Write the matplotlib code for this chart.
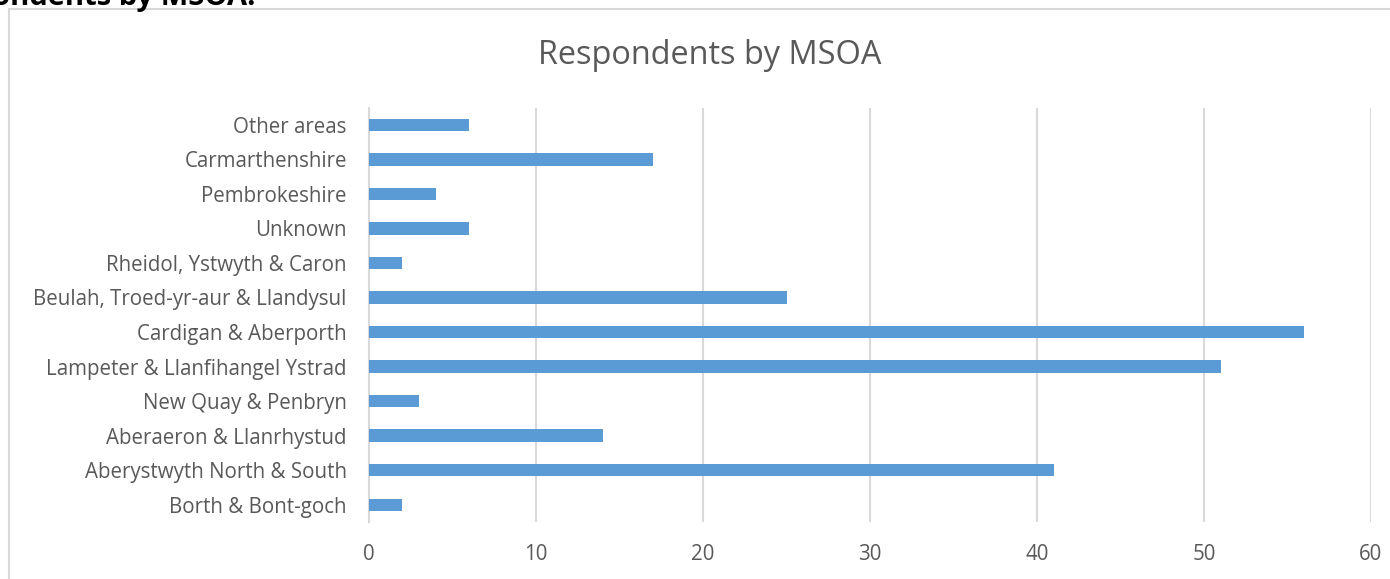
import matplotlib
matplotlib.use('Agg')
import matplotlib.pyplot as plt
from matplotlib.patches import Rectangle

# Data (bottom to top, as drawn)
areas = [
    "Borth & Bont-goch",
    "Aberystwyth North & South",
    "Aberaeron & Llanrhystud",
    "New Quay & Penbryn",
    "Lampeter & Llanfihangel Ystrad",
    "Cardigan & Aberporth",
    "Beulah, Troed-yr-aur & Llandysul",
    "Rheidol, Ystwyth & Caron",
    "Unknown",
    "Pembrokeshire",
    "Carmarthenshire",
    "Other areas",
]
respondents = [2, 41, 14, 3, 51, 56, 25, 2, 6, 4, 17, 6]
x_ticks = [0, 10, 20, 30, 40, 50, 60]

plt.rcParams['font.family'] = ['Open Sans', 'DejaVu Sans']
text_grey = '#595959'
bar_blue = '#5B9BD5'
grid_grey = '#D9D9D9'

fig = plt.figure(figsize=(13.9, 5.79), dpi=100, facecolor='white')

# chart frame (cut off at right and bottom)
fig.patches.append(Rectangle((8.5 / 1390, -0.1), 1.2, 1.1 - 9.5 / 579,
                             transform=fig.transFigure, fill=False,
                             edgecolor=grid_grey, linewidth=1.5))

# cropped heading above the chart (only its lower part shows)
fig.text(255 / 1390, 1 - 5 / 579, "Respondents by MSOA:", ha='right', va='baseline',
         fontsize=21, fontweight='bold', color='black')

ax = fig.add_axes([369 / 1390, 1 - 522 / 579, (1371 - 369) / 1390, (522 - 107.5) / 579])
ypos = range(len(areas))
ax.barh(ypos, respondents, height=0.36, color=bar_blue, zorder=3)
ax.set_yticks(list(ypos))
ax.set_yticklabels(areas)
ax.set_ylim(-0.5, len(areas) - 0.5)
ax.set_xlim(0, 60)
ax.set_xticks(x_ticks)
ax.grid(axis='x', color=grid_grey, linewidth=1.5, zorder=0)
for s in ['top', 'right', 'bottom']:
    ax.spines[s].set_visible(False)
ax.spines['left'].set_color(grid_grey)
ax.spines['left'].set_linewidth(1.5)
ax.tick_params(axis='both', length=0, labelsize=14.8, labelcolor=text_grey)
ax.tick_params(axis='y', pad=16)
ax.tick_params(axis='x', pad=16)

fig.text(710 / 1390, 1 - 55 / 579, "Respondents by MSOA", ha='center', va='center',
         fontsize=23.4, color=text_grey)

fig.savefig("out.png", dpi=100, facecolor='white')
